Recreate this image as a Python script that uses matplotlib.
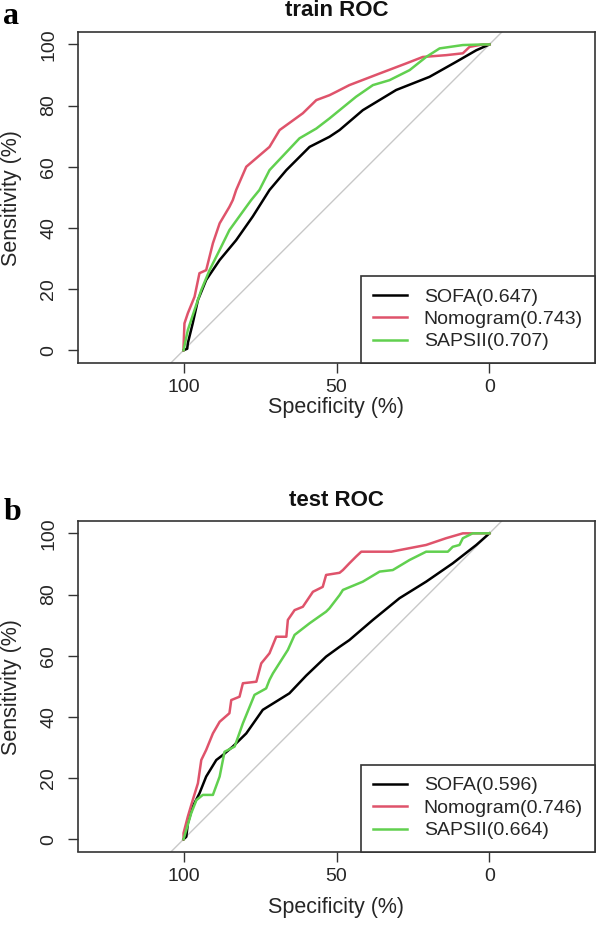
import matplotlib
matplotlib.use("Agg")
import matplotlib.pyplot as plt

plt.rcParams['font.family'] = ['Liberation Sans', 'DejaVu Sans']

# ---------------- data ----------------
titles = ["train ROC", "test ROC"]
panel_letters = ["a", "b"]
series_names = ["SOFA", "Nomogram", "SAPSII"]
auc_train = [0.647, 0.743, 0.707]
auc_test = [0.596, 0.746, 0.664]
x_ticks = [100, 50, 0]
y_ticks = [0, 20, 40, 60, 80, 100]

# train panel (specificity %, sensitivity %)
train_sofa_spec = [100, 98.8, 98.6, 97.0, 95.3, 92.6, 88.2, 82.8, 77.4, 71.9, 66.4, 58.8, 52.3, 49.0, 41.4, 30.5, 19.6, 10.9, 4.3, 0]
train_sofa_sens = [0, 0.5, 2.3, 8.8, 16.4, 23.0, 29.5, 36.0, 43.7, 52.4, 58.9, 66.5, 69.8, 72.0, 78.5, 85.1, 89.4, 94.3, 98.1, 100]

train_nomo_spec = [100, 100, 99.7, 98.6, 96.4, 94.8, 92.6, 90.4, 88.2, 85.0, 83.9, 82.8, 79.5, 71.9, 68.6, 61.0, 56.6, 52.3, 50.1, 45.8, 35.9, 27.2, 21.8, 14.1, 8.7, 6.5, 2.2, 0]
train_nomo_sens = [0, 1.2, 8.8, 12.1, 17.5, 25.2, 26.2, 35.0, 41.5, 46.9, 49.1, 52.4, 60.0, 66.5, 72.0, 77.5, 81.8, 83.4, 84.5, 86.7, 90.5, 93.8, 95.9, 96.5, 97.1, 99.2, 100, 100]

train_saps_spec = [100, 98.6, 96.4, 94.2, 91.5, 88.2, 85.0, 79.5, 77.9, 75.2, 71.9, 62.1, 56.6, 52.3, 49.0, 43.6, 38.1, 32.7, 26.1, 20.7, 16.3, 8.7, 2.0, 0]
train_saps_sens = [0, 6.6, 13.2, 19.7, 26.2, 32.8, 39.3, 46.9, 49.1, 52.4, 58.9, 69.3, 72.5, 75.8, 78.5, 82.9, 86.7, 88.3, 91.6, 95.9, 98.7, 99.8, 100, 100]

# test panel
test_sofa_spec = [100, 99.1, 98.6, 97.0, 94.8, 92.6, 89.3, 87.2, 83.9, 79.5, 74.1, 65.4, 59.9, 53.4, 49.0, 45.8, 38.1, 29.4, 20.7, 12.0, 4.3, 0]
test_sofa_sens = [0, 0.8, 5.2, 10.7, 15.0, 20.5, 25.9, 27.5, 30.3, 34.6, 42.3, 47.7, 53.5, 59.7, 62.9, 65.1, 71.7, 78.8, 84.2, 90.2, 96.2, 100]

test_nomo_spec = [100, 100, 98.6, 97.0, 95.3, 94.2, 92.6, 90.4, 88.2, 85.0, 84.4, 81.7, 80.6, 76.2, 74.6, 71.9, 69.7, 66.4, 65.9, 63.7, 61.0, 57.7, 54.5, 53.4, 49.0, 47.9, 45.8, 43.6, 41.9, 32.1, 20.7, 14.2, 8.7, 0]
test_nomo_sens = [0, 2.0, 7.4, 12.8, 18.3, 25.9, 29.2, 34.6, 38.4, 41.2, 45.5, 46.6, 51.0, 51.5, 57.5, 60.8, 66.2, 66.2, 71.7, 74.9, 76.0, 80.9, 82.5, 86.4, 87.1, 88.0, 90.2, 92.4, 94.0, 94.0, 96.2, 98.4, 100, 100]

test_saps_spec = [100, 97.5, 95.8, 93.7, 90.4, 88.2, 86.6, 83.3, 80.6, 76.8, 73.0, 71.9, 70.8, 65.9, 63.7, 58.8, 53.4, 52.3, 49.0, 47.9, 41.4, 35.9, 31.6, 26.1, 20.7, 13.6, 12.0, 9.8, 8.7, 5.5, 0]
test_saps_sens = [0, 8.5, 12.8, 14.5, 14.5, 20.5, 28.6, 30.3, 37.9, 47.2, 49.3, 52.1, 54.2, 61.9, 66.8, 70.6, 74.4, 75.5, 79.8, 81.5, 84.2, 87.5, 88.0, 91.3, 94.0, 94.0, 95.6, 96.2, 98.4, 100, 100]

colors = ["black", "#DF536B", "#61D04F"]

panels = [
    dict(title=titles[0], letter=panel_letters[0], auc=auc_train,
         curves=[(train_sofa_spec, train_sofa_sens), (train_nomo_spec, train_nomo_sens), (train_saps_spec, train_saps_sens)]),
    dict(title=titles[1], letter=panel_letters[1], auc=auc_test,
         curves=[(test_sofa_spec, test_sofa_sens), (test_nomo_spec, test_nomo_sens), (test_saps_spec, test_saps_sens)]),
]

W, H = 597, 933
fig = plt.figure(figsize=(W / 100, H / 100), dpi=100)

# axes boxes in pixels (left, top, right, bottom)
boxes = [(78, 32.2, 595, 362.5), (78, 521.1, 595, 851.5)]
title_base = [16.5, 506.5]
letter_base = [24, 520]
xlabel_y = [407, 908]

edge = "#333333"
fs = 14
lfs = 14
labfs = 15.5

for p, (l, t, r, b), tb, lb, xly in zip(panels, boxes, title_base, letter_base, xlabel_y):
    ax = fig.add_axes([l / W, 1 - b / H, (r - l) / W, (b - t) / H])
    ax.set_xlim(134.5, -34.5)
    ax.set_ylim(-4, 104)
    ax.axline((100, 0), (0, 100), color="#C8C8C8", lw=1.0, zorder=1)
    for (sx, sy), c, name, a in zip(p["curves"], colors, series_names, p["auc"]):
        ax.plot(sx, sy, color=c, lw=1.8, label=f"{name}({a:.3f})", zorder=3)
    ax.set_xticks(x_ticks)
    ax.set_yticks(y_ticks)
    ax.set_xticklabels([str(v) for v in x_ticks])
    ax.set_yticklabels([str(v) for v in y_ticks], rotation=90, va="center")
    ax.tick_params(axis="both", direction="out", length=7, width=1.0, color=edge,
                   labelsize=fs, labelcolor="#262626")
    ax.tick_params(axis="x", pad=5)
    ax.tick_params(axis="y", pad=8)
    for s in ax.spines.values():
        s.set_color(edge)
        s.set_linewidth(1.2)
    leg = ax.legend(loc="lower right", bbox_to_anchor=(1, 0), borderaxespad=0,
                    fancybox=False, frameon=True, edgecolor=edge, framealpha=1,
                    fontsize=lfs, handlelength=1.75, handletextpad=0.87,
                    borderpad=0.62, labelspacing=0.25)
    leg.get_frame().set_linewidth(1.2)
    for txt in leg.get_texts():
        txt.set_color("#262626")

    cx = (l + r) / 2 / W
    fig.text(cx, 1 - tb / H, p["title"], ha="center", va="baseline",
             fontsize=16, fontweight="bold", color="#111111")
    fig.text(cx, 1 - xly / H, "Specificity (%)", ha="center", va="center",
             fontsize=labfs, color="#262626")
    fig.text(12 / W, 1 - ((t + b) / 2 + 1) / H, "Sensitivity (%)", ha="center", va="center",
             rotation=90, fontsize=labfs, color="#262626")
    fig.text(3.5 / W, 1 - lb / H, p["letter"], ha="left", va="baseline",
             fontsize=23, fontweight="bold", family="Liberation Serif", color="black")

fig.savefig("out.png", dpi=100)
